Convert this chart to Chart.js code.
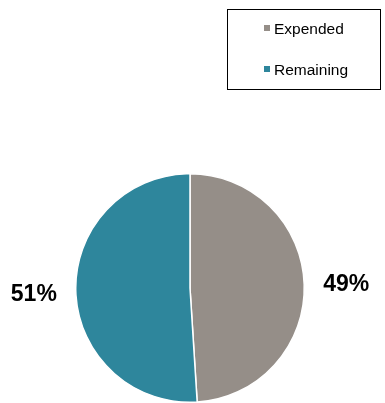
<!DOCTYPE html>
<html>
<head>
<meta charset="utf-8">
<script src="https://cdn.jsdelivr.net/npm/chart.js@4"></script>
<style>
  html, body { margin: 0; padding: 0; background: #fff; }
  #wrap { position: relative; width: 385px; height: 403px; }
  #legend {
    position: absolute; left: 227px; top: 9px; width: 154px; height: 81px;
    border: 1px solid #000; box-sizing: border-box;
    font-family: "Liberation Sans", Arial, sans-serif; font-size: 15.5px; color: #000;
  }
  .item { position: absolute; left: 36px; white-space: nowrap; }
  .box { display: inline-block; width: 6px; height: 6px; margin-right: 4px; vertical-align: 3px; }
</style>
</head>
<body>
<div id="wrap">
  <canvas id="pieChart" width="385" height="403"></canvas>
  <div id="legend"></div>
</div>
<script>
// Data
const labels = ['Expended', 'Remaining'];
const values = [49, 51];
const colors = ['#958e88', '#2e869c'];

// Legend (HTML, built from the data)
const legendEl = document.getElementById('legend');
labels.forEach((name, i) => {
    const div = document.createElement('div');
    div.className = 'item';
    div.style.top = (10 + i * 41) + 'px';
    div.innerHTML = '<span class="box" style="background:' + colors[i] + '"></span>' + name;
    legendEl.appendChild(div);
});

// Percentage labels drawn outside each slice
const outsideLabels = {
    id: 'outsideLabels',
    afterDatasetsDraw(chart) {
        const ctx = chart.ctx;
        const meta = chart.getDatasetMeta(0);
        const total = values.reduce((a, b) => a + b, 0);
        ctx.save();
        ctx.font = 'bold 23px "Liberation Sans", Arial, sans-serif';
        ctx.fillStyle = '#000';
        ctx.textAlign = 'center';
        ctx.textBaseline = 'middle';
        meta.data.forEach((arc, i) => {
            const p = arc.getProps(['x', 'y', 'startAngle', 'endAngle', 'outerRadius'], true);
            const mid = (p.startAngle + p.endAngle) / 2;
            const r = p.outerRadius + 42;
            const x = p.x + Math.cos(mid) * r;
            const y = p.y + Math.sin(mid) * r + 2;
            ctx.fillText(Math.round(values[i] / total * 100) + '%', x, y);
        });
        ctx.restore();
    }
};

new Chart(document.getElementById('pieChart').getContext('2d'), {
    type: 'pie',
    data: {
        labels: labels,
        datasets: [{
            data: values,
            backgroundColor: colors,
            borderColor: '#ffffff',
            borderWidth: 1.5
        }]
    },
    options: {
        responsive: false,
        animation: false,
        layout: { padding: { top: 173, bottom: 0, left: 0, right: 5 } },
        plugins: {
            legend: { display: false },
            tooltip: { enabled: false }
        }
    },
    plugins: [outsideLabels]
});
</script>
</body>
</html>
